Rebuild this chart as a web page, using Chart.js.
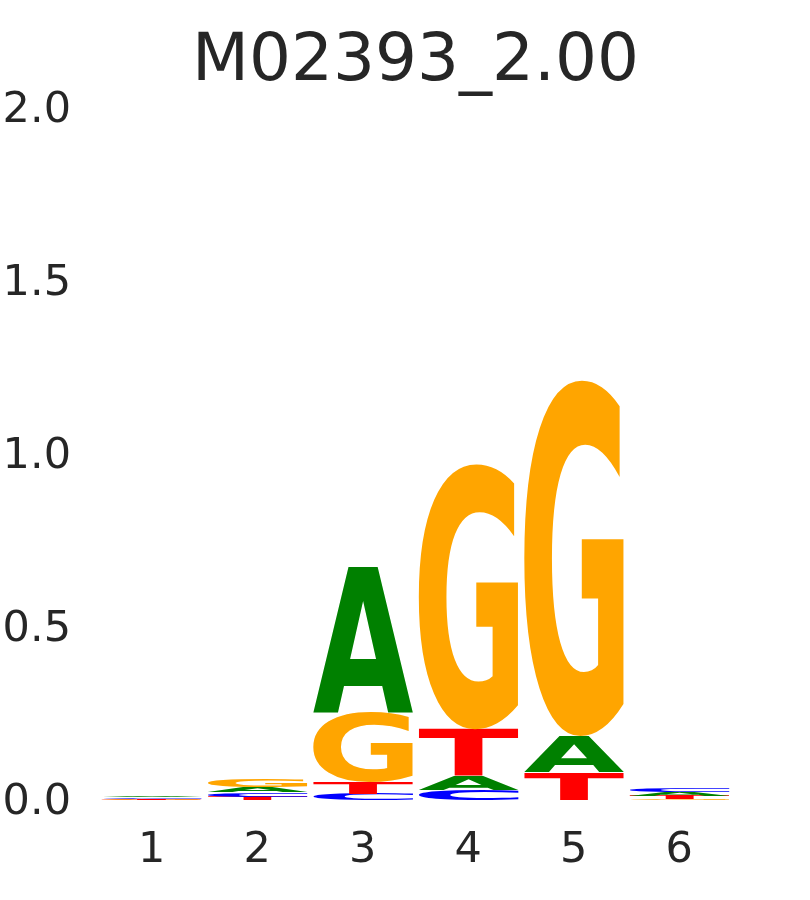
<!DOCTYPE html>
<html>
<head>
<meta charset="utf-8">
<script src="https://cdn.jsdelivr.net/npm/chart.js@4/dist/chart.umd.min.js"></script>
<style>
  html, body { margin: 0; padding: 0; background: #ffffff; }
  #wrap { width: 810px; height: 900px; position: relative; }
</style>
</head>
<body>
<div id="wrap"><canvas id="c"></canvas></div>
<script>
// Sequence logo data (bits)
const positions = ['1', '2', '3', '4', '5', '6'];
const heightA = [0.005, 0.015, 0.423, 0.040, 0.104, 0.010];
const heightC = [0.004, 0.012, 0.017, 0.029, 0.000, 0.012];
const heightG = [0.002, 0.025, 0.202, 0.770, 1.033, 0.004];
const heightT = [0.003, 0.011, 0.035, 0.136, 0.081, 0.009];
const yTicks = [0.0, 0.5, 1.0, 1.5, 2.0];
const titleText = 'M02393_2.00';

const letterColors = { A: '#008000', C: '#0000ff', G: '#ffa500', T: '#ff0000' };
const textColor = '#262626';

// Build stacking layers: smallest letter at the bottom for each position
const letterHeights = { A: heightA, C: heightC, G: heightG, T: heightT };
const layers = [[], [], [], []];
const layerLetters = [[], [], [], []];
positions.forEach((p, i) => {
  const order = ['A', 'C', 'G', 'T']
    .map(l => ({ l, v: letterHeights[l][i] }))
    .sort((a, b) => a.v - b.v);
  order.forEach((o, r) => { layers[r].push(o.v); layerLetters[r].push(o.l); });
});

const datasets = layers.map((d, r) => ({
  label: 'layer' + r,
  data: d,
  letters: layerLetters[r],
  backgroundColor: 'rgba(0,0,0,0)',
  borderWidth: 0,
  categoryPercentage: 1.0,
  barPercentage: 0.95
}));

const glyphCache = {};
function glyphMetrics(ctx, letter) {
  if (glyphCache[letter]) return glyphCache[letter];
  ctx.save();
  ctx.font = 'bold 200px "DejaVu Sans"';
  const m = ctx.measureText(letter);
  ctx.restore();
  const g = {
    left: m.actualBoundingBoxLeft,
    right: m.actualBoundingBoxRight,
    ascent: m.actualBoundingBoxAscent,
    descent: m.actualBoundingBoxDescent
  };
  glyphCache[letter] = g;
  return g;
}

const logoPlugin = {
  id: 'logoLetters',
  afterDatasetsDraw(chart) {
    const ctx = chart.ctx;
    chart.data.datasets.forEach((ds, di) => {
      const meta = chart.getDatasetMeta(di);
      meta.data.forEach((bar, i) => {
        const v = ds.data[i];
        if (!v || v <= 0) return;
        const letter = ds.letters[i];
        const props = bar.getProps(['x', 'y', 'base', 'width'], true);
        const top = Math.min(props.y, props.base);
        const h = Math.abs(props.base - props.y);
        const w = props.width;
        const left = props.x - w / 2;
        if (h <= 0 || w <= 0) return;
        const g = glyphMetrics(ctx, letter);
        const gw = g.left + g.right;
        const gh = g.ascent + g.descent;
        ctx.save();
        ctx.beginPath();
        ctx.translate(left, top);
        ctx.scale(w / gw, h / gh);
        ctx.font = 'bold 200px "DejaVu Sans"';
        ctx.textAlign = 'left';
        ctx.textBaseline = 'alphabetic';
        ctx.fillStyle = letterColors[letter];
        ctx.fillText(letter, g.left, g.ascent);
        ctx.restore();
      });
    });
  }
};

new Chart(document.getElementById('c'), {
  type: 'bar',
  data: { labels: positions, datasets: datasets },
  options: {
    responsive: true,
    maintainAspectRatio: false,
    animation: false,
    layout: { padding: { left: 0, right: 78, top: 0, bottom: -2 } },
    plugins: {
      legend: { display: false },
      tooltip: { enabled: false },
      title: {
        display: true,
        fullSize: false,
        text: titleText,
        color: textColor,
        font: { family: 'DejaVu Sans', size: 66, weight: 'normal' },
        padding: { top: 23, bottom: 7 }
      }
    },
    scales: {
      x: {
        stacked: true,
        grid: { display: false, drawTicks: false },
        border: { display: false },
        ticks: {
          color: textColor,
          padding: 25,
          font: { family: 'DejaVu Sans', size: 43 }
        }
      },
      y: {
        stacked: true,
        min: 0,
        max: 2,
        afterBuildTicks(axis) { axis.ticks = yTicks.map(v => ({ value: v })); },
        afterFit(axis) { axis.width = 99; },
        grid: { display: false, drawTicks: false },
        border: { display: false },
        ticks: {
          color: textColor,
          padding: 28,
          labelOffset: 2,
          font: { family: 'DejaVu Sans', size: 43 },
          callback: v => Number(v).toFixed(1)
        }
      }
    }
  },
  plugins: [logoPlugin]
});
</script>
</body>
</html>
